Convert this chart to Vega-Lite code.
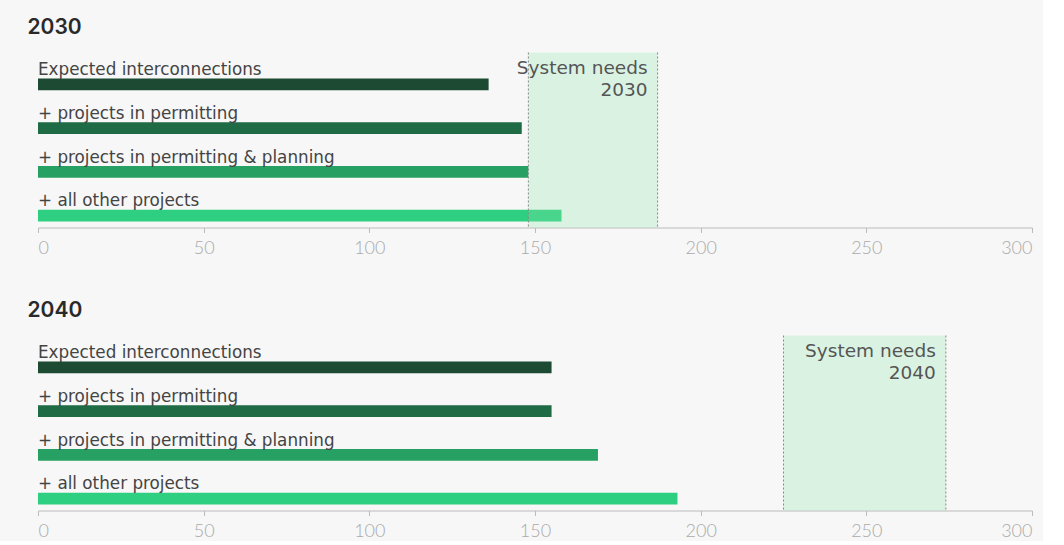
{
  "$schema": "https://vega.github.io/schema/vega-lite/v6.json",
  "background": "#f7f7f7",
  "padding": {"left": 27, "top": 16.5, "right": 10, "bottom": 0},
  "config": {
    "view": {"stroke": null},
    "font": "DejaVu Sans",
    "axis": {"grid": false}
  },
  "datasets": {
    "bars": [
      {"panel": "2030", "category": "Expected interconnections", "value": 136},
      {"panel": "2030", "category": "+ projects in permitting", "value": 146},
      {"panel": "2030", "category": "+ projects in permitting & planning", "value": 148},
      {"panel": "2030", "category": "+ all other projects", "value": 158},
      {"panel": "2040", "category": "Expected interconnections", "value": 155},
      {"panel": "2040", "category": "+ projects in permitting", "value": 155},
      {"panel": "2040", "category": "+ projects in permitting & planning", "value": 169},
      {"panel": "2040", "category": "+ all other projects", "value": 193}
    ],
    "needs": [
      {"panel": "2030", "lo": 148, "hi": 187, "label": "System needs\n2030"},
      {"panel": "2040", "lo": 225, "hi": 274, "label": "System needs\n2040"}
    ]
  },
  "vconcat": [
    {
      "width": 994,
      "height": 175,
      "title": {"text": "2030", "anchor": "start", "dx": -10, "font": "Inter", "fontSize": 21, "fontWeight": 600, "color": "#2a2a2a", "baseline": "alphabetic", "offset": -3},
      "layer": [
        {
          "data": {"name": "bars"},
          "transform": [{"filter": "datum.panel === '2030'"}],
          "mark": {"type": "bar", "height": {"band": 0.265}, "yOffset": 10},
          "encoding": {
            "y": {"field": "category", "type": "nominal", "sort": ["Expected interconnections", "+ projects in permitting", "+ projects in permitting & planning", "+ all other projects"], "scale": {"paddingInner": 0, "paddingOuter": 0}, "axis": null},
            "x": {"field": "value", "type": "quantitative", "scale": {"domain": [0, 300], "nice": false},
              "axis": {"title": null, "values": [0, 50, 100, 150, 200, 250, 300], "domainColor": "#bbbbbb", "tickColor": "#bbbbbb", "tickSize": 5, "labelFont": "Lato", "labelColor": "#aaaaaa", "labelFontSize": 18, "labelFontWeight": 300, "labelPadding": 7}},
            "color": {"field": "category", "type": "nominal", "sort": ["Expected interconnections", "+ projects in permitting", "+ projects in permitting & planning", "+ all other projects"], "scale": {"range": ["#1c4a33", "#1e6b45", "#27a063", "#2ecf80"]}, "legend": null}
          }
        },
        {
          "data": {"name": "bars"},
          "transform": [{"filter": "datum.panel === '2030'"}],
          "mark": {"type": "text", "align": "left", "baseline": "alphabetic", "yOffset": 0.7, "fontSize": 16.8, "color": "#444444"},
          "encoding": {
            "y": {"field": "category", "type": "nominal", "sort": ["Expected interconnections", "+ projects in permitting", "+ projects in permitting & planning", "+ all other projects"]},
            "x": {"datum": 0, "type": "quantitative"},
            "text": {"field": "category"}
          }
        },
        {
          "data": {"name": "needs"},
          "transform": [{"filter": "datum.panel === '2030'"}],
          "mark": {"type": "rect", "color": "#8ee6ae", "opacity": 0.28},
          "encoding": {
            "x": {"field": "lo", "type": "quantitative"},
            "x2": {"field": "hi"}
          }
        },
        {
          "data": {"name": "needs"},
          "transform": [{"filter": "datum.panel === '2030'"}, {"fold": ["lo", "hi"], "as": ["edge", "pos"]}],
          "mark": {"type": "rule", "color": "#888888", "strokeDash": [2, 2], "strokeWidth": 1},
          "encoding": {
            "x": {"field": "pos", "type": "quantitative"}
          }
        },
        {
          "data": {"name": "needs"},
          "transform": [{"filter": "datum.panel === '2030'"}],
          "mark": {"type": "text", "align": "right", "baseline": "middle", "lineBreak": "\n", "lineHeight": 21.7, "dx": -10, "yOffset": -6, "fontSize": 18.5, "color": "#555555"},
          "encoding": {
            "x": {"field": "hi", "type": "quantitative"},
            "y": {"datum": "Expected interconnections", "type": "nominal"},
            "text": {"field": "label"}
          }
        }
      ]
    },
    {
      "width": 994,
      "height": 175,
      "title": {"text": "2040", "anchor": "start", "dx": -10, "font": "Inter", "fontSize": 21, "fontWeight": 600, "color": "#2a2a2a", "baseline": "alphabetic", "offset": -3},
      "layer": [
        {
          "data": {"name": "bars"},
          "transform": [{"filter": "datum.panel === '2040'"}],
          "mark": {"type": "bar", "height": {"band": 0.265}, "yOffset": 10},
          "encoding": {
            "y": {"field": "category", "type": "nominal", "sort": ["Expected interconnections", "+ projects in permitting", "+ projects in permitting & planning", "+ all other projects"], "scale": {"paddingInner": 0, "paddingOuter": 0}, "axis": null},
            "x": {"field": "value", "type": "quantitative", "scale": {"domain": [0, 300], "nice": false},
              "axis": {"title": null, "values": [0, 50, 100, 150, 200, 250, 300], "domainColor": "#bbbbbb", "tickColor": "#bbbbbb", "tickSize": 5, "labelFont": "Lato", "labelColor": "#aaaaaa", "labelFontSize": 18, "labelFontWeight": 300, "labelPadding": 7}},
            "color": {"field": "category", "type": "nominal", "sort": ["Expected interconnections", "+ projects in permitting", "+ projects in permitting & planning", "+ all other projects"], "scale": {"range": ["#1c4a33", "#1e6b45", "#27a063", "#2ecf80"]}, "legend": null}
          }
        },
        {
          "data": {"name": "bars"},
          "transform": [{"filter": "datum.panel === '2040'"}],
          "mark": {"type": "text", "align": "left", "baseline": "alphabetic", "yOffset": 0.7, "fontSize": 16.8, "color": "#444444"},
          "encoding": {
            "y": {"field": "category", "type": "nominal", "sort": ["Expected interconnections", "+ projects in permitting", "+ projects in permitting & planning", "+ all other projects"]},
            "x": {"datum": 0, "type": "quantitative"},
            "text": {"field": "category"}
          }
        },
        {
          "data": {"name": "needs"},
          "transform": [{"filter": "datum.panel === '2040'"}],
          "mark": {"type": "rect", "color": "#8ee6ae", "opacity": 0.28},
          "encoding": {
            "x": {"field": "lo", "type": "quantitative"},
            "x2": {"field": "hi"}
          }
        },
        {
          "data": {"name": "needs"},
          "transform": [{"filter": "datum.panel === '2040'"}, {"fold": ["lo", "hi"], "as": ["edge", "pos"]}],
          "mark": {"type": "rule", "color": "#888888", "strokeDash": [2, 2], "strokeWidth": 1},
          "encoding": {
            "x": {"field": "pos", "type": "quantitative"}
          }
        },
        {
          "data": {"name": "needs"},
          "transform": [{"filter": "datum.panel === '2040'"}],
          "mark": {"type": "text", "align": "right", "baseline": "middle", "lineBreak": "\n", "lineHeight": 21.7, "dx": -10, "yOffset": -6, "fontSize": 18.5, "color": "#555555"},
          "encoding": {
            "x": {"field": "hi", "type": "quantitative"},
            "y": {"datum": "Expected interconnections", "type": "nominal"},
            "text": {"field": "label"}
          }
        }
      ]
    }
  ],
  "spacing": 42
}
